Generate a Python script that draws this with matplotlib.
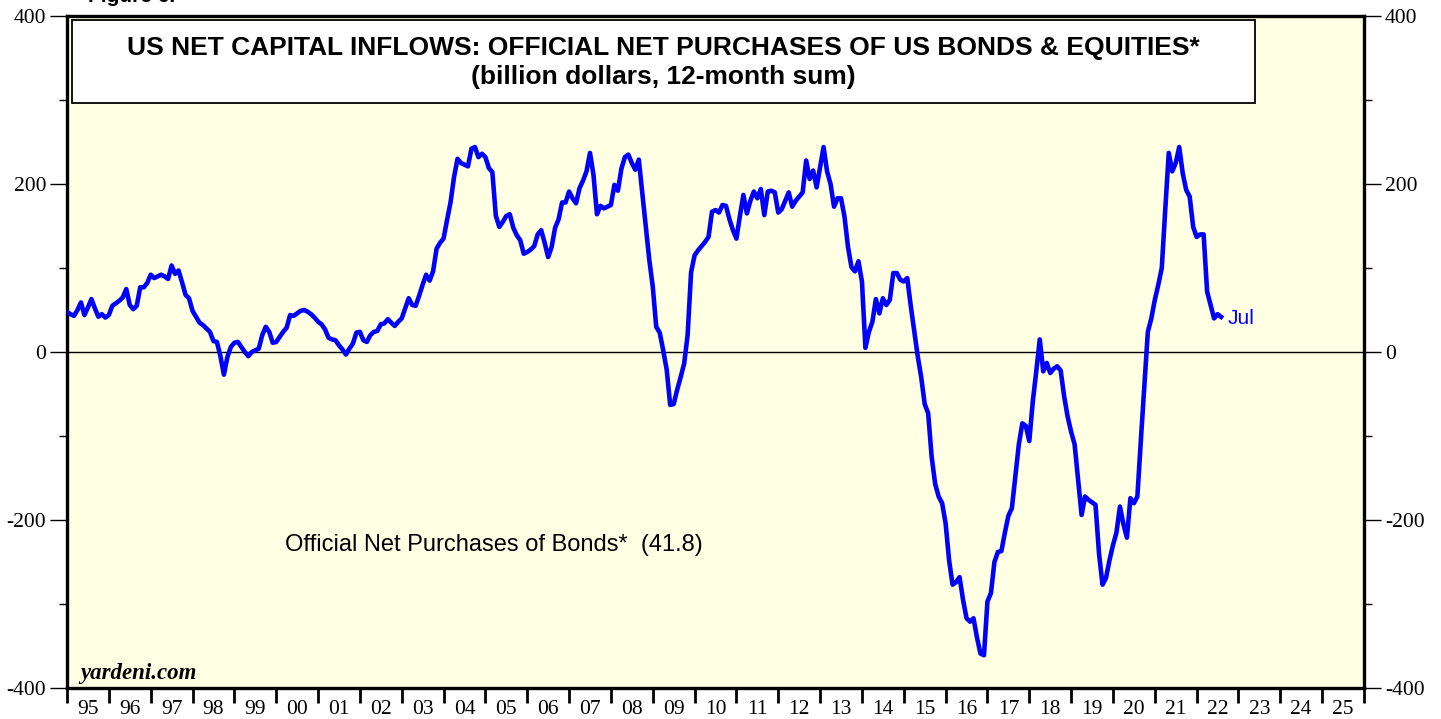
import numpy as np
import pandas as pd
import matplotlib
matplotlib.use("Agg")
import matplotlib.pyplot as plt
from matplotlib.ticker import FixedLocator, NullFormatter, FixedFormatter
from matplotlib.patches import Rectangle

plt.rcParams["axes.unicode_minus"] = False

# ---- data: official net purchases of US bonds, 12-month sum, billion $ (month-end, Dec 1994 .. Jul 2022)
bonds_1995_1999 = [48, 45, 43, 50, 59, 44, 53, 63, 52, 42, 45, 41,
                   44, 55, 58, 61, 65, 75, 56, 51, 55, 77, 77, 82,
                   92, 88, 90, 92, 90, 87, 103, 93, 97, 83, 68, 64,
                   49, 42, 35, 32, 28, 24, 13, 12, -5, -27, -6, 6,
                   11, 12, 6, 0, -5, 0, 2, 4, 20, 30, 24, 11]
bonds_2000_2004 = [12, 18, 24, 29, 44, 43, 46, 49, 50, 48, 45, 41,
                   36, 33, 27, 17, 15, 14, 8, 3, -3, 4, 10, 23,
                   24, 14, 12, 20, 24, 25, 33, 34, 39, 35, 31, 36,
                   40, 52, 64, 56, 55, 67, 80, 92, 85, 96, 123, 130,
                   135, 157, 178, 208, 230, 225, 223, 221, 242, 244, 232, 236]
bonds_2005_2009 = [232, 219, 214, 162, 149, 155, 162, 164, 148, 139, 133, 117,
                   119, 122, 126, 140, 145, 130, 113, 125, 148, 158, 178, 178,
                   191, 183, 177, 195, 204, 215, 237, 211, 164, 174, 171, 173,
                   175, 199, 192, 218, 232, 235, 225, 217, 229, 189, 150, 110,
                   78, 30, 23, 2, -21, -63, -62, -45, -30, -14, 20, 95]
bonds_2010_2014 = [115, 121, 126, 131, 137, 167, 169, 166, 175, 174, 158, 145,
                   135, 162, 187, 165, 180, 191, 183, 194, 163, 191, 192, 190,
                   166, 170, 180, 190, 173, 180, 185, 190, 228, 206, 216, 196,
                   220, 244, 215, 200, 173, 183, 183, 161, 125, 101, 96, 108,
                   84, 5, 24, 36, 63, 46, 64, 56, 62, 94, 94, 86]
bonds_2015_2019 = [84, 88, 55, 25, -5, -30, -62, -73, -125, -157, -172, -180,
                   -204, -248, -277, -274, -268, -295, -317, -321, -317, -340, -359, -361,
                   -297, -287, -250, -238, -237, -215, -195, -186, -148, -110, -85, -88,
                   -106, -59, -23, 15, -23, -13, -25, -20, -17, -22, -53, -77,
                   -95, -110, -152, -194, -172, -176, -179, -182, -240, -277, -269, -248]
bonds_2020_2022 = [-230, -215, -184, -205, -221, -174, -180, -172, -105, -41, 24, 40,
                   62, 80, 100, 170, 237, 215, 225, 244, 213, 193, 185, 149,
                   137, 140, 140, 72, 56, 40, 45, 41.8]
bonds_start = "1994-12-31"

year_labels = ["95", "96", "97", "98", "99", "00", "01", "02", "03", "04", "05", "06",
               "07", "08", "09", "10", "11", "12", "13", "14", "15", "16", "17", "18",
               "19", "20", "21", "22", "23", "24", "25"]
y_major = [-400, -200, 0, 200, 400]
y_minor = [-300, -100, 100, 300]

title_line1 = "US NET CAPITAL INFLOWS: OFFICIAL NET PURCHASES OF US BONDS & EQUITIES*"
title_line2 = "(billion dollars, 12-month sum)"
series_label = "Official Net Purchases of Bonds*  (41.8)"
last_label = "Jul"

# ---- build series
values = np.array(bonds_1995_1999 + bonds_2000_2004 + bonds_2005_2009 +
                  bonds_2010_2014 + bonds_2015_2019 + bonds_2020_2022, dtype=float)
dates = pd.date_range(bonds_start, periods=len(values), freq="ME")
xdec = dates.year + dates.month / 12.0

# ---- figure
W, H = 1441, 719
fig = plt.figure(figsize=(W / 100, H / 100), dpi=100, facecolor="white")
ax = fig.add_axes([67 / W, 1 - 688 / H, (1364 - 67) / W, (688 - 16) / H])
ax.set_facecolor("#FFFFE3")

ax.plot(xdec, values, color="#0000FF", lw=3.3, solid_joinstyle="round", zorder=3)
ax.axhline(0, color="black", lw=1.0, zorder=2)

ax.set_xlim(1995, 2026)
ax.set_ylim(-400, 400)

for s in ax.spines.values():
    s.set_linewidth(2.4)
    s.set_color("black")

serif = ["Liberation Serif", "DejaVu Serif"]
sans = ["Liberation Sans", "DejaVu Sans"]

# y axis
ax.yaxis.set_major_locator(FixedLocator(y_major))
ax.yaxis.set_minor_locator(FixedLocator(y_minor))
ax.yaxis.set_minor_formatter(NullFormatter())
ax.tick_params(axis="y", which="major", direction="out", length=12, width=1.0,
               left=True, right=True, labelleft=True, labelright=True,
               labelsize=15.5, pad=3)
ax.tick_params(axis="y", which="minor", direction="out", length=6, width=1.0,
               left=True, right=True)
for lab in ax.get_yticklabels():
    lab.set_fontfamily(serif)

# x axis: ticks at year boundaries, labels centred within years
years = np.arange(1995, 2027)
ax.xaxis.set_major_locator(FixedLocator(years))
ax.xaxis.set_major_formatter(NullFormatter())
ax.xaxis.set_minor_locator(FixedLocator(years[:-1] + 0.5))
ax.xaxis.set_minor_formatter(FixedFormatter(year_labels))
ax.tick_params(axis="x", which="major", direction="out", length=11, width=2.0,
               bottom=True, top=False)
ax.tick_params(axis="x", which="minor", length=0, labelsize=15.5, pad=9,
               bottom=True, top=False)
for lab in ax.get_xticklabels(minor=True):
    lab.set_fontfamily(serif)

# title box
box = Rectangle((72 / W, 1 - 103 / H), (1255 - 72) / W, (103 - 20) / H,
                transform=fig.transFigure, facecolor="white", edgecolor="black",
                lw=1.3, zorder=5)
fig.patches.append(box)
fig.text(663 / W, 1 - 48 / H, title_line1, ha="center", va="center",
         fontsize=19, fontweight="bold", family=sans, zorder=6)
fig.text(663 / W, 1 - 77 / H, title_line2, ha="center", va="center",
         fontsize=19, fontweight="bold", family=sans, zorder=6)

# partly visible figure caption at the very top (cut off as in the original)
fig.text(88 / W, 1 - 2 / H, "Figure 6.", ha="left", va="baseline",
         fontsize=15, fontweight="bold", family=sans)

# annotations
ax.text(2000.2, -230, series_label, ha="left", va="center",
        fontsize=17, family=sans, color="black")
ax.annotate(last_label, xy=(xdec[-1], values[-1]), xytext=(5, -1),
            textcoords="offset points", ha="left", va="center",
            fontsize=15, family=sans, color="#0000FF")
fig.text(80 / W, 1 - 673 / H, "yardeni.com", ha="left", va="center",
         fontsize=16.5, fontweight="bold", fontstyle="italic", family=serif)

fig.savefig("out.png", dpi=100, facecolor="white")
